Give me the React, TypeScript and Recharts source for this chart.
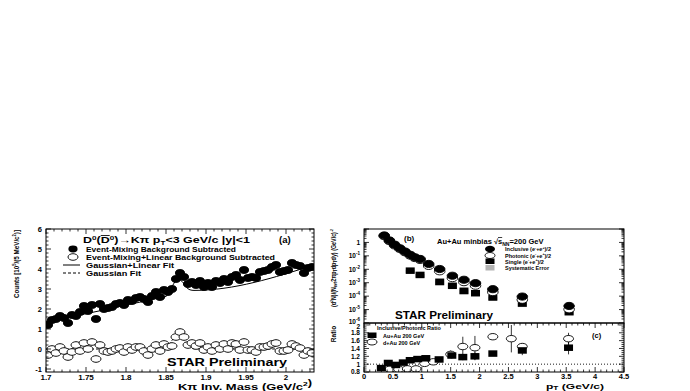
import React from "react";
import { ComposedChart, Scatter, Line, XAxis, YAxis, ErrorBar, ReferenceLine } from "recharts";

const FONT = "'Liberation Sans', Arial, Helvetica, sans-serif";

// ---- panel (a): D0 -> K pi invariant mass, 5 MeV bins from 1.7 GeV/c2
const massStart = 1.7;
const massBinWidth = 0.005;
const countStatErr = 0.17;
const mixedBgSub = [
  1.2, 1.45, 1.5, 1.65, 1.55, 1.3, 1.7, 1.65, 1.85, 2.15, 1.9, 2.2, 1.5, 2.25, 2.0, 2.05, 2.1,
  2.25, 2.3, 2.2, 2.45, 2.4, 2.55, 2.6, 2.5, 2.35, 2.65, 2.85, 2.6, 2.95, 2.85, 3.0, 3.5, 3.8,
  3.6, 3.25, 3.35, 3.2, 3.4, 3.1, 3.3, 3.1, 3.4, 3.3, 3.5, 3.35, 3.6, 3.7, 3.45, 3.95, 3.55,
  3.6, 3.55, 3.85, 3.9, 3.95, 4.1, 4.2, 3.85, 3.9, 3.95, 4.3, 4.2, 4.15, 3.8, 4.05, 4.1,
];
const linearBgSub = [
  -0.3, 0.0, -0.2, 0.1, -0.1, -0.4, -0.15, 0.2, -0.1, 0.3, 0.0, 0.35, -0.5, 0.2, -0.1, -0.15,
  -0.1, 0.0, 0.05, -0.15, 0.1, -0.05, 0.1, 0.1, -0.1, -0.3, 0.0, 0.2, -0.1, 0.25, 0.1, 0.15,
  0.6, 0.85, 0.6, 0.2, 0.3, 0.15, 0.3, -0.05, 0.1, -0.1, 0.2, 0.0, 0.25, 0.0, 0.3, 0.25, -0.05,
  0.35, -0.05, -0.05, -0.15, 0.1, 0.1, 0.15, 0.25, 0.3, -0.1, -0.1, -0.05, 0.25, 0.15, 0.05,
  -0.3, -0.1, -0.2,
];
const fitGausLinear = [
  [1.7, 1.35], [1.84, 2.54], [1.85, 2.63], [1.855, 2.94], [1.86, 3.29], [1.865, 3.5],
  [1.87, 3.38], [1.875, 3.11], [1.88, 2.96], [1.885, 2.93], [2.035, 4.2],
];
const fitGaus = [
  [1.7, 0], [1.845, 0], [1.85, 0.01], [1.855, 0.27], [1.86, 0.58], [1.865, 0.75],
  [1.87, 0.58], [1.875, 0.27], [1.88, 0.08], [1.885, 0.01], [2.035, 0],
];

// ---- panel (b): electron spectra, Au+Au minbias
const specPt = [0.35, 0.44, 0.53, 0.62, 0.71, 0.8, 0.88, 0.97, 1.12, 1.31, 1.53, 1.73, 1.93, 2.23, 2.74, 3.55];
const inclusive = [3.3, 1.4, 0.68, 0.37, 0.21, 0.12, 0.079, 0.059, 2.5e-2, 1.05e-2, 3.3e-3, 1.66e-3, 9.3e-4, 3.3e-4, 9.3e-5, 1.86e-5];
const photonic = [2.95, 1.26, 0.6, 0.33, 0.186, 0.105, 0.069, 0.05, 1.78e-2, 7.1e-3, 2.2e-3, 1.1e-3, 6.0e-4, 2.0e-4, 5.4e-5, 1.05e-5];
const singlePt = [0.8, 0.97, 1.31, 1.53, 1.73, 1.93, 2.23, 2.74, 3.55];
const single = [7.9e-3, 3.8e-3, 1.17e-3, 5.9e-4, 2.5e-4, 1.66e-4, 7.9e-5, 2.8e-5, 6.6e-6];
const singleSysFrac = [0.35, 0.35, 0.5, 0.4, 0.5, 0.4, 0.35, 0.45, 0.5];

// ---- panel (c): inclusive / photonic ratio
const auauPt = [0.3, 0.42, 0.55, 0.68, 0.8, 0.93, 1.07, 1.3, 1.52, 1.71, 1.92, 2.23, 2.74, 3.54];
const auauRatio = [0.9, 1.03, 0.98, 1.04, 1.1, 1.13, 1.15, 1.12, 1.22, 1.18, 1.2, 1.27, 1.35, 1.42];
const auauErr = [0.02, 0.02, 0.02, 0.02, 0.03, 0.03, 0.03, 0.04, 0.08, 0.08, 0.1, 0.05, 0.12, 0.17];
const dauPt = [0.45, 0.6, 0.75, 0.9, 1.05, 1.2, 1.5, 1.71, 1.92, 2.23, 2.55, 2.74, 3.54];
const dauRatio = [0.87, 0.87, 0.88, 0.88, 1.02, 1.06, 1.25, 1.45, 1.42, 1.7, 1.65, 1.45, 1.65];
const dauErr = [0.02, 0.02, 0.02, 0.02, 0.03, 0.03, 0.1, 0.25, 0.3, 0.05, 0.35, 0.08, 0.15];

const massTicks = Array.from({ length: 34 }, (_, i) => Math.round((1.7 + i * 0.01) * 100) / 100);
const countTicks = Array.from({ length: 36 }, (_, i) => Math.round((-1 + i * 0.2) * 10) / 10);
const logTicks: number[] = [];
for (let e = -6; e <= 0; e++) for (let d = 1; d <= 9; d++) logTicks.push(d * Math.pow(10, e));
logTicks.push(10);
const ptTicks = Array.from({ length: 46 }, (_, i) => Math.round(i) / 10);
const ratioTicks = Array.from({ length: 25 }, (_, i) => Math.round((0.8 + i * 0.05) * 100) / 100);

const massPts = (vals: number[]) =>
  vals.map((v, i) => ({ m: massStart + (i + 0.5) * massBinWidth, v, ex: massBinWidth / 2, ey: countStatErr }));
const pairs = (arr: number[][]) => arr.map(([m, v]) => ({ m, v }));

const ell = (rx: number, ry: number, fill: string) => (p: any) =>
  p.cx == null ? <g /> : <ellipse cx={p.cx} cy={p.cy} rx={rx} ry={ry} fill={fill} stroke="#000" strokeWidth={0.9} />;
const sq = (w: number, h: number, fill: string) => (p: any) =>
  p.cx == null ? <g /> : <rect x={p.cx - w / 2} y={p.cy - h / 2} width={w} height={h} fill={fill} />;

const txt = (size: number) => ({ fontSize: size, fontWeight: 700, fontFamily: FONT, fill: "#000" });

function xTick(top: number, bottom: number, major: (v: number) => boolean, fs: number, label?: (v: number) => string, ly?: number) {
  return (p: any) => {
    const v = p.payload.value;
    const big = major(v);
    const len = big ? 5 : 2.5;
    return (
      <g>
        <line x1={p.x} x2={p.x} y1={bottom} y2={bottom - len} stroke="#000" strokeWidth={0.8} />
        <line x1={p.x} x2={p.x} y1={top} y2={top + len} stroke="#000" strokeWidth={0.8} />
        {label && big && (
          <text x={p.x} y={ly} textAnchor="middle" {...txt(fs)}>{label(v)}</text>
        )}
      </g>
    );
  };
}

function yTick(left: number, right: number, major: (v: number) => boolean, fs: number, label?: (v: number) => any, nudge?: (v: number) => number) {
  return (p: any) => {
    const v = p.payload.value;
    const big = major(v);
    const len = big ? 5 : 2.5;
    const dy = nudge ? nudge(v) : 0;
    return (
      <g>
        <line x1={left} x2={left + len} y1={p.y} y2={p.y} stroke="#000" strokeWidth={0.8} />
        <line x1={right} x2={right - len} y1={p.y} y2={p.y} stroke="#000" strokeWidth={0.8} />
        {label && big && (
          <text x={left - 4} y={p.y + fs * 0.36 + dy} textAnchor="end" {...txt(fs)}>{label(v)}</text>
        )}
      </g>
    );
  };
}

function MassPanel() {
  // plot area: x 46..314, y 9..152 inside a 330x171 chart
  return (
    <ComposedChart width={330} height={171} margin={{ top: 9, right: 16, bottom: 0, left: 0 }}>
      <XAxis type="number" dataKey="m" domain={[1.7, 2.035]} allowDataOverflow ticks={massTicks} interval={0}
        tickLine={false} axisLine={false} height={19}
        tick={xTick(9, 152, (v) => Math.round(v * 100) % 5 === 0, 8, (v) => String(v), 159.5)} />
      <YAxis type="number" dataKey="v" domain={[-1.15, 6]} allowDataOverflow ticks={countTicks} interval={0}
        tickLine={false} axisLine={false} width={46}
        tick={yTick(46, 314, (v) => Number.isInteger(v), 7.5, (v) => String(v))} />
      <Line data={pairs(fitGausLinear)} dataKey="v" type="monotone" dot={false} stroke="#000" strokeWidth={1} isAnimationActive={false} />
      <Line data={pairs(fitGaus)} dataKey="v" type="monotone" dot={false} stroke="#000" strokeWidth={1} strokeDasharray="3 2" isAnimationActive={false} />
      <Scatter data={massPts(linearBgSub)} shape={ell(5, 3.3, "#fff")} isAnimationActive={false}>
        <ErrorBar dataKey="ey" direction="y" width={0} stroke="#000" strokeWidth={0.8} />
        <ErrorBar dataKey="ex" direction="x" width={0} stroke="#000" strokeWidth={0.8} />
      </Scatter>
      <Scatter data={massPts(mixedBgSub)} shape={ell(4.6, 3.4, "#000")} isAnimationActive={false}>
        <ErrorBar dataKey="ey" direction="y" width={0} stroke="#000" strokeWidth={0.8} />
        <ErrorBar dataKey="ex" direction="x" width={0} stroke="#000" strokeWidth={0.8} />
      </Scatter>
    </ComposedChart>
  );
}

function SpectrumPanel() {
  // plot area: x 34..294, y 9..103 inside a 300x112 chart
  const inc = specPt.map((pt, i) => ({ m: pt, v: inclusive[i], ey: inclusive[i] * 0.05 }));
  const pho = specPt.map((pt, i) => ({ m: pt, v: photonic[i] }));
  const sgl = singlePt.map((pt, i) => ({
    m: pt, v: single[i], ey: single[i] * 0.25,
    sys: [single[i] * singleSysFrac[i], single[i] * singleSysFrac[i] * 0.5],
  }));
  return (
    <ComposedChart width={300} height={112} margin={{ top: 9, right: 6, bottom: 9, left: 0 }}>
      <XAxis type="number" dataKey="m" domain={[0, 4.5]} allowDataOverflow ticks={ptTicks} interval={0}
        tickLine={false} axisLine={false} height={0}
        tick={xTick(9, 103, (v) => Math.round(v * 10) % 5 === 0, 8)} />
      <YAxis type="number" dataKey="v" scale="log" domain={[1e-6, 10]} allowDataOverflow ticks={logTicks} interval={0}
        tickLine={false} axisLine={false} width={34}
        tick={yTick(34, 294, (v) => Math.abs(Math.log10(v) - Math.round(Math.log10(v))) < 1e-6, 6.5, (v) => {
          const e = Math.round(Math.log10(v));
          if (e === 0) return "1";
          if (e === 1) return "";
          return (
            <>
              10<tspan dy={-3} fontSize={4.5}>{e}</tspan>
            </>
          );
        }, (v) => (v < 2e-6 ? -1.5 : 0))} />
      <Scatter data={sgl} shape={sq(9, 6.5, "#000")} isAnimationActive={false}>
        <ErrorBar dataKey="sys" direction="y" width={0} stroke="#b4b4b4" strokeWidth={9} />
        <ErrorBar dataKey="ey" direction="y" width={0} stroke="#000" strokeWidth={0.8} />
      </Scatter>
      <Scatter data={pho} shape={ell(5.3, 3.6, "#fff")} isAnimationActive={false} />
      <Scatter data={inc} shape={ell(5.3, 3.6, "#000")} isAnimationActive={false} />
    </ComposedChart>
  );
}

function RatioPanel() {
  // plot area: x 34..294, y 10..59 inside a 300x78 chart
  const auau = auauPt.map((pt, i) => ({ m: pt, v: auauRatio[i], ey: auauErr[i] }));
  const dau = dauPt.map((pt, i) => ({ m: pt, v: dauRatio[i], ey: dauErr[i] }));
  return (
    <ComposedChart width={300} height={78} margin={{ top: 10, right: 6, bottom: 0, left: 0 }}>
      <XAxis type="number" dataKey="m" domain={[0, 4.5]} allowDataOverflow ticks={ptTicks} interval={0}
        tickLine={false} axisLine={false} height={19}
        tick={xTick(10, 59, (v) => Math.round(v * 10) % 5 === 0, 7.5, (v) => String(v), 65.5)} />
      <YAxis type="number" dataKey="v" domain={[0.8, 2.05]} allowDataOverflow ticks={ratioTicks} interval={0}
        tickLine={false} axisLine={false} width={34}
        tick={yTick(34, 294, (v) => Math.round(v * 100) % 20 === 0, 6.5, (v) => String(v), (v) => (v > 1.95 ? 1.5 : 0))} />
      <ReferenceLine y={1} stroke="#000" strokeWidth={0.9} strokeDasharray="1 2" />
      <Scatter data={dau} shape={ell(5, 3.2, "#fff")} isAnimationActive={false}>
        <ErrorBar dataKey="ey" direction="y" width={0} stroke="#000" strokeWidth={0.8} />
      </Scatter>
      <Scatter data={auau} shape={sq(9, 6.5, "#000")} isAnimationActive={false}>
        <ErrorBar dataKey="ey" direction="y" width={0} stroke="#000" strokeWidth={0.8} />
      </Scatter>
    </ComposedChart>
  );
}

function Overlay() {
  const sup = (s: string, fs: number) => <tspan dy={-fs * 0.4} fontSize={fs * 0.65}>{s}</tspan>;
  return (
    <svg width={690} height={391} style={{ position: "absolute", left: 0, top: 0, pointerEvents: "none" }}>
      <g fill="none" stroke="#000" strokeWidth={1}>
        <rect x={46} y={229} width={268} height={143} />
        <rect x={364} y={229} width={260} height={94} />
        <rect x={364} y={323} width={260} height={49} />
      </g>
      {/* panel (a) */}
      <text x={83} y={243} {...txt(8.5)} textLength={167} lengthAdjust="spacingAndGlyphs">
        D{sup("0", 8.5)}<tspan dy={3.4}>(</tspan><tspan textDecoration="overline">D</tspan>{sup("0", 8.5)}
        <tspan dy={3.4}>)→Kπ  p</tspan><tspan dy={1.5} fontSize={5.5}>T</tspan><tspan dy={-1.5}>&lt;3 GeV/c  |y|&lt;1</tspan>
      </text>
      <text x={279} y={243} {...txt(9.5)}>(a)</text>
      <ellipse cx={73} cy={249} rx={4.6} ry={3.4} fill="#000" />
      <text x={86} y={251.5} {...txt(6.5)} textLength={150} lengthAdjust="spacingAndGlyphs">Event-Mixing Background Subtracted</text>
      <ellipse cx={73} cy={257} rx={5} ry={3.3} fill="#fff" stroke="#000" strokeWidth={0.9} />
      <text x={86} y={259.5} {...txt(6.5)} textLength={189} lengthAdjust="spacingAndGlyphs">Event-Mixing+Linear Background Subtracted</text>
      <line x1={63} x2={80} y1={265} y2={265} stroke="#000" strokeWidth={1} />
      <text x={86} y={267.5} {...txt(6.5)} textLength={88} lengthAdjust="spacingAndGlyphs">Gaussian+Linear Fit</text>
      <line x1={63} x2={80} y1={273} y2={273} stroke="#000" strokeWidth={1} strokeDasharray="3 2" />
      <text x={86} y={275.5} {...txt(6.5)} textLength={55} lengthAdjust="spacingAndGlyphs">Gaussian Fit</text>
      <text x={167} y={366} {...txt(11)} textLength={120} lengthAdjust="spacingAndGlyphs">STAR Preliminary</text>
      <text x={178} y={389.5} {...txt(8.5)} textLength={134} lengthAdjust="spacingAndGlyphs">Kπ Inv. Mass (GeV/c{sup("2", 8.5)})</text>
      <text x={19} y={230} textAnchor="end" transform="rotate(-90 19 230)" {...txt(8)} textLength={68} lengthAdjust="spacingAndGlyphs">
        Counts [10{sup("5", 8)}<tspan dy={3.2}>/(5 MeV/c</tspan>{sup("2", 8)}<tspan dy={3.2}>)]</tspan>
      </text>
      {/* panel (b) */}
      <text x={404} y={241} {...txt(8)}>(b)</text>
      <text x={437} y={244} {...txt(7.5)}>
        Au+Au minbias √<tspan textDecoration="overline">s</tspan><tspan dy={1.5} fontSize={5}>NN</tspan><tspan dy={-1.5}>=200 GeV</tspan>
      </text>
      <ellipse cx={490} cy={249} rx={5} ry={3.3} fill="#000" />
      <ellipse cx={490} cy={255.5} rx={5} ry={3} fill="#fff" stroke="#000" strokeWidth={0.9} />
      <rect x={485.5} y={258.5} width={9} height={5.5} fill="#000" />
      <rect x={485.5} y={265} width={9} height={5.5} fill="#b4b4b4" />
      <text x={505} y={251} {...txt(5.5)}>Inclusive (e{sup("-", 5.5)}<tspan dy={2.2}>+e</tspan>{sup("+", 5.5)}<tspan dy={2.2}>)/2</tspan></text>
      <text x={505} y={257.5} {...txt(5.5)}>Photonic (e{sup("-", 5.5)}<tspan dy={2.2}>+e</tspan>{sup("+", 5.5)}<tspan dy={2.2}>)/2</tspan></text>
      <text x={505} y={263.5} {...txt(5.5)}>Single (e{sup("-", 5.5)}<tspan dy={2.2}>+e</tspan>{sup("+", 5.5)}<tspan dy={2.2}>)/2</tspan></text>
      <text x={505} y={270} {...txt(5.5)}>Systematic Error</text>
      <text x={395} y={319} {...txt(10)} textLength={98} lengthAdjust="spacingAndGlyphs">STAR Preliminary</text>
      <text x={336} y={229} textAnchor="end" transform="rotate(-90 336 229)" {...txt(6.5)} textLength={78} lengthAdjust="spacingAndGlyphs">
        (d{sup("2", 6.5)}<tspan dy={2.6}>N)/(N</tspan><tspan dy={1.3} fontSize={4.5}>evt</tspan><tspan dy={-1.3}>2πp</tspan>
        <tspan dy={1.3} fontSize={4.5}>T</tspan><tspan dy={-1.3}>dp</tspan><tspan dy={1.3} fontSize={4.5}>T</tspan>
        <tspan dy={-1.3}>dy) (GeV/c)</tspan>{sup("-2", 6.5)}
      </text>
      {/* panel (c) */}
      <text x={336} y={334} textAnchor="middle" transform="rotate(-90 336 334)" {...txt(6.5)}>Ratio</text>
      <text x={377} y={330} {...txt(5.5)}>Inclusive/Photonic Ratio</text>
      <rect x={367.5} y={332.5} width={9} height={5.5} fill="#000" />
      <text x={383} y={337.5} {...txt(5.5)}>Au+Au 200 GeV</text>
      <ellipse cx={372} cy={342} rx={5} ry={3} fill="#fff" stroke="#000" strokeWidth={0.9} />
      <text x={383} y={344.5} {...txt(5.5)}>d+Au 200 GeV</text>
      <text x={592} y={338} {...txt(7.5)}>(c)</text>
      <text x={546} y={388.5} {...txt(8)} textLength={58} lengthAdjust="spacingAndGlyphs">
        p<tspan dy={1.5} fontSize={5.5}>T</tspan><tspan dy={-1.5}> (GeV/c)</tspan>
      </text>
    </svg>
  );
}

export default function App() {
  return (
    <div style={{ position: "absolute", left: 0, top: 0, width: 690, height: 391, background: "#fff", fontFamily: FONT }}>
      <div style={{ position: "absolute", left: 0, top: 220 }}>
        <MassPanel />
      </div>
      <div style={{ position: "absolute", left: 330, top: 220 }}>
        <SpectrumPanel />
      </div>
      <div style={{ position: "absolute", left: 330, top: 313 }}>
        <RatioPanel />
      </div>
      <Overlay />
    </div>
  );
}
